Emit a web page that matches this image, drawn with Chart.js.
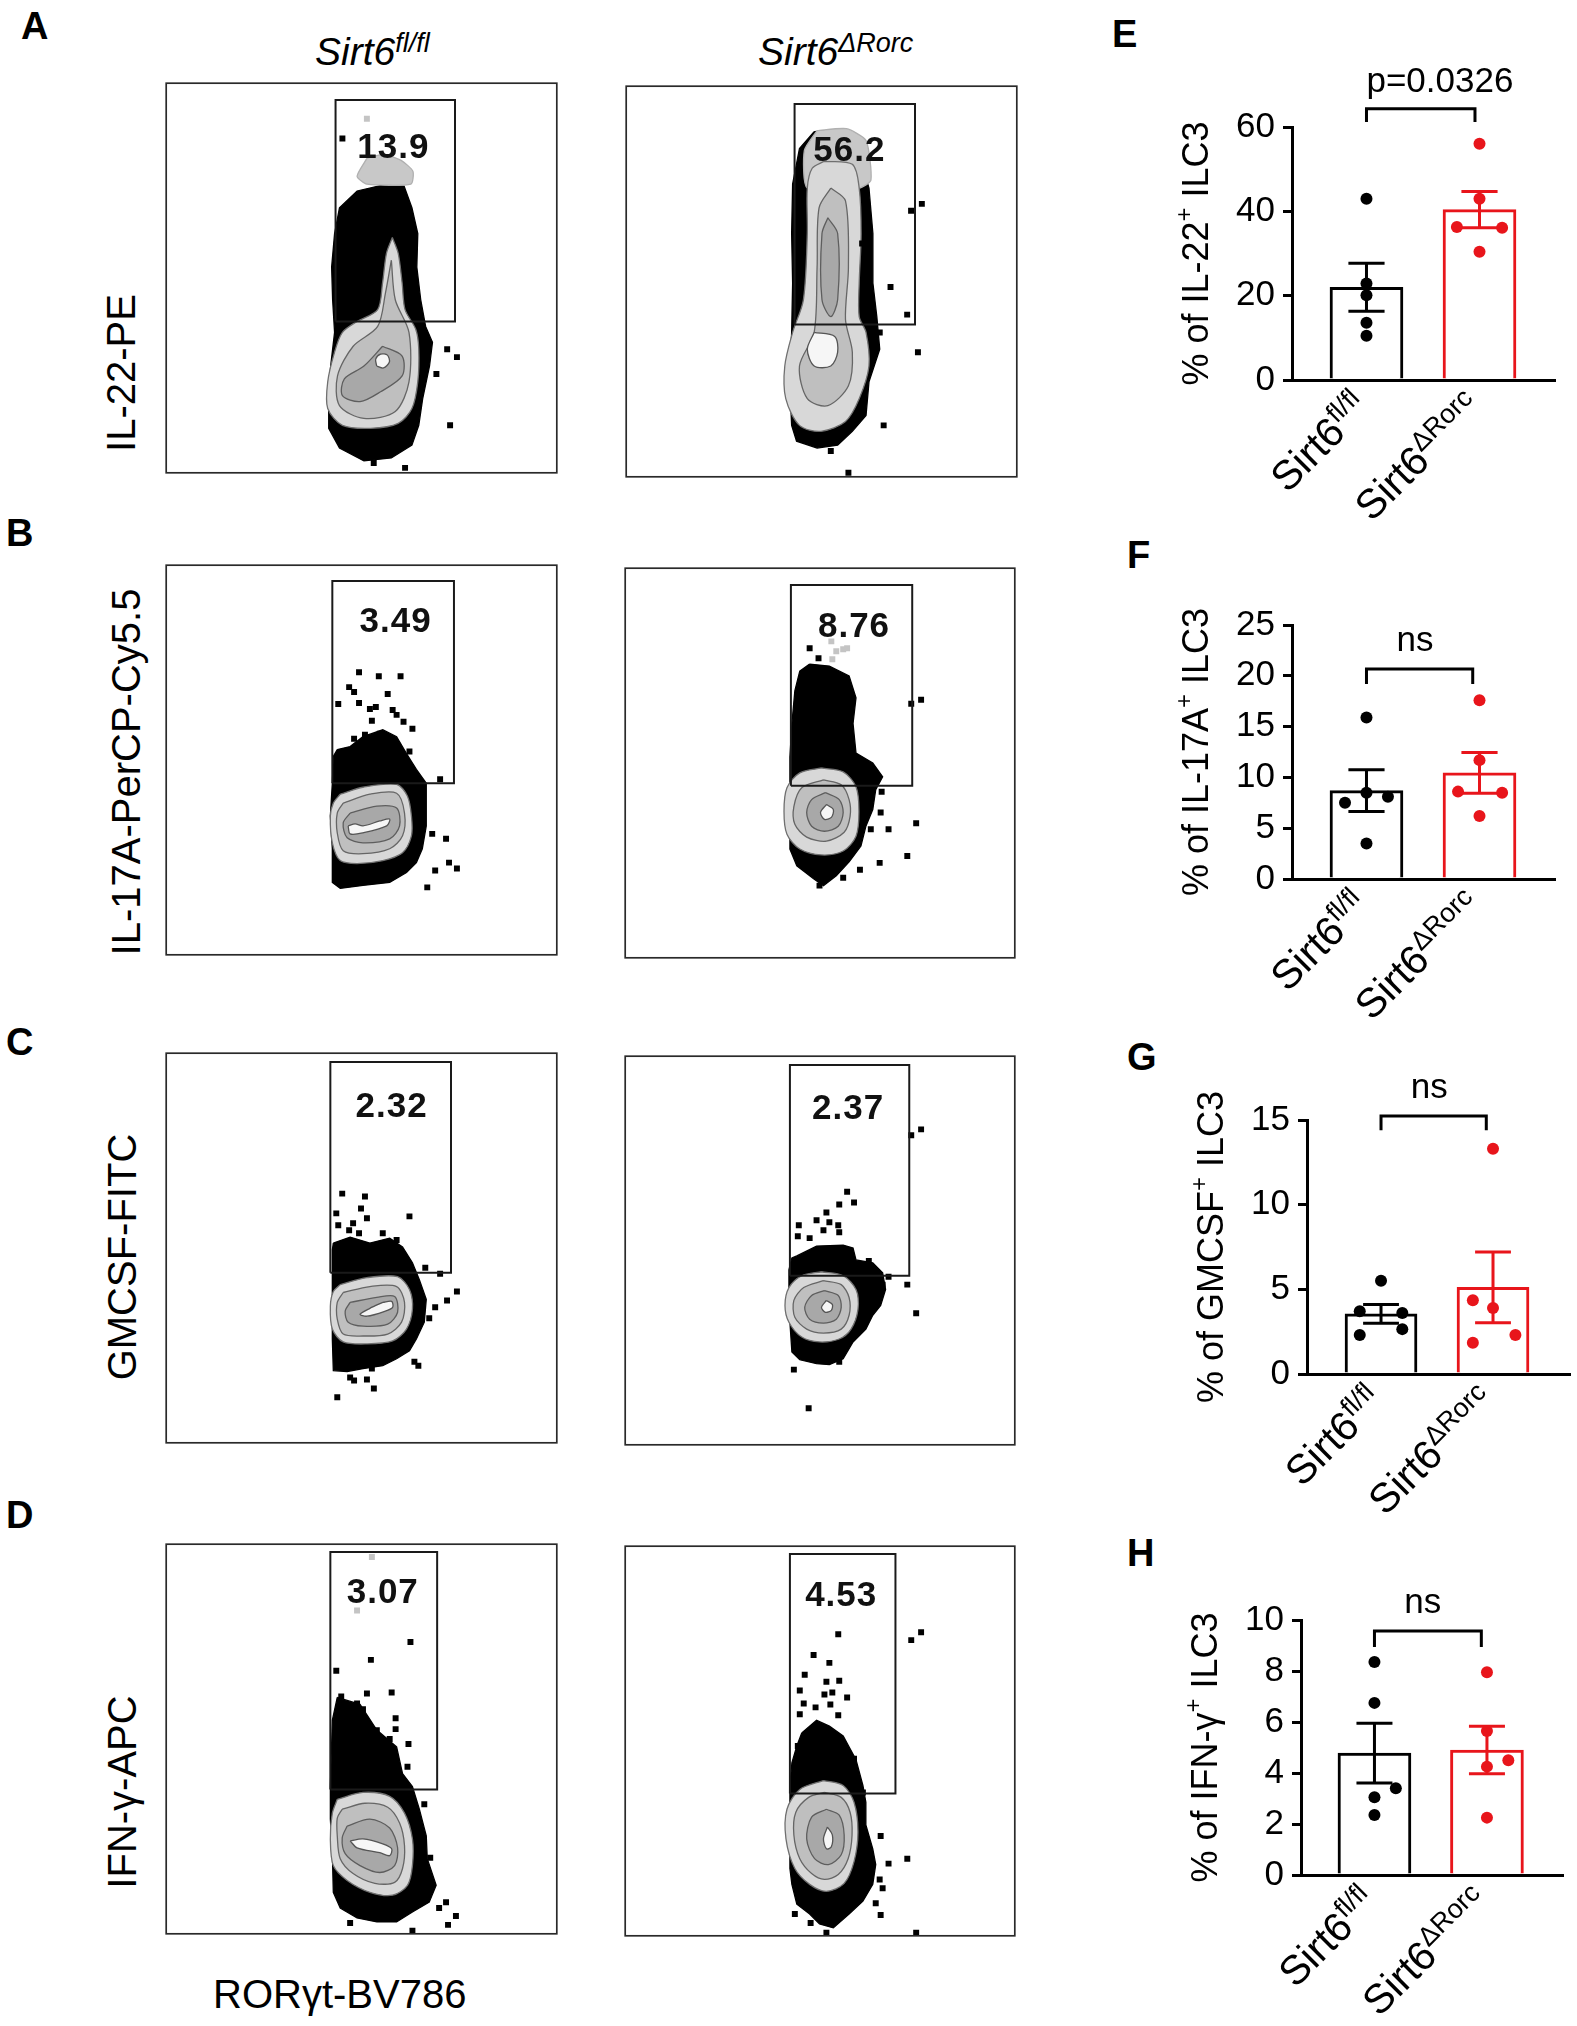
<!DOCTYPE html>
<html>
<head>
<meta charset="utf-8">
<script src="https://cdn.jsdelivr.net/npm/chart.js@4.4.1/dist/chart.umd.min.js"></script>
<style>
body{margin:0;background:#fff;}
#page{position:relative;width:1577px;height:2026px;overflow:hidden;font-family:'Liberation Sans',Arial,sans-serif;color:#000;}
canvas{position:absolute;}
.lt{position:absolute;font-weight:bold;font-size:38px;line-height:1;}
.hd{position:absolute;font-style:italic;font-size:39px;line-height:1;white-space:nowrap;}
.hd span{font-size:27px;position:relative;top:-13px;}
.yl{position:absolute;font-size:40px;line-height:1;white-space:nowrap;transform:translate(-50%,-50%) rotate(-90deg);}
.xl{position:absolute;font-size:40px;line-height:1;white-space:nowrap;}
</style>
</head>
<body>
<div id="page">
  <div class="lt" style="left:21px;top:7px">A</div>
  <div class="lt" style="left:6px;top:514px">B</div>
  <div class="lt" style="left:6px;top:1023px">C</div>
  <div class="lt" style="left:6px;top:1496px">D</div>
  <div class="lt" style="left:1112px;top:15px">E</div>
  <div class="lt" style="left:1127px;top:536px">F</div>
  <div class="lt" style="left:1127px;top:1038px">G</div>
  <div class="lt" style="left:1127px;top:1534px">H</div>

  <div class="hd" style="left:315px;top:32px">Sirt6<span>fl/fl</span></div>
  <div class="hd" style="left:758px;top:32px">Sirt6<span>ΔRorc</span></div>

  <div class="yl" style="left:121px;top:373px">IL-22-PE</div>
  <div class="yl" style="left:126px;top:772px">IL-17A-PerCP-Cy5.5</div>
  <div class="yl" style="left:122px;top:1257px">GMCSF-FITC</div>
  <div class="yl" style="left:122px;top:1792px">IFN-γ-APC</div>
  <div class="xl" style="left:213px;top:1974px">RORγt-BV786</div>

  <canvas id="aL"></canvas><canvas id="aR"></canvas>
  <canvas id="bL"></canvas><canvas id="bR"></canvas>
  <canvas id="cL"></canvas><canvas id="cR"></canvas>
  <canvas id="dL"></canvas><canvas id="dR"></canvas>
  <canvas id="chE"></canvas><canvas id="chF"></canvas>
  <canvas id="chG"></canvas><canvas id="chH"></canvas>
</div>
<script>
const FONT = "'Liberation Sans', Arial, sans-serif";

// ---------- bar charts (E-H) ----------
const groupBase = ['Sirt6', 'Sirt6'];
const groupSup = ['fl/fl', 'ΔRorc'];

// E: IL-22
const eMean = [22.0, 40.4];
const eSem = [5.7, 4.3];
const ePtsFl = [43.0, 22.9, 20.1, 13.6, 10.5];
const eOffFl = [0, 0, 0, 0, 0];
const ePtsKo = [56.0, 43.0, 36.3, 36.1, 30.4];
const eOffKo = [0, 0, -0.2, 0.2, 0];
const eTicks = [0, 60, 20];
const eTitle = ['% of IL-22', '+', ' ILC3'];

// F: IL-17A
const fMean = [8.7, 10.45];
const fSem = [2.05, 2.0];
const fPtsFl = [15.9, 8.5, 8.1, 7.5, 3.5];
const fOffFl = [0, 0, 0.19, -0.19, 0];
const fPtsKo = [17.6, 11.7, 8.6, 8.5, 6.2];
const fOffKo = [0, 0, -0.19, 0.2, 0];
const fTicks = [0, 25, 5];
const fTitle = ['% of IL-17A', '+', ' ILC3'];

// G: GMCSF
const gMean = [3.55, 5.12];
const gSem = [0.55, 2.09];
const gPtsFl = [5.5, 3.7, 3.6, 2.65, 2.3];
const gOffFl = [0, -0.19, 0.19, 0.19, -0.19];
const gPtsKo = [13.3, 4.35, 3.9, 2.3, 1.85];
const gOffKo = [0, -0.18, 0, 0.2, -0.18];
const gTicks = [0, 15, 5];
const gTitle = ['% of GMCSF', '+', ' ILC3'];

// H: IFN-g
const hMean = [4.78, 4.9];
const hSem = [1.17, 0.93];
const hPtsFl = [8.35, 6.75, 3.4, 3.05, 2.35];
const hOffFl = [0, 0, 0.19, 0, 0];
const hPtsKo = [7.95, 5.65, 4.5, 4.25, 2.25];
const hOffKo = [0, 0, 0.19, 0, 0];
const hTicks = [0, 10, 2];
const hTitle = ['% of IFN-γ', '+', ' ILC3'];

// significance: bracket [low, high, right x], text [label, x, y]
const eBracket = [61.2, 64.3, 0.96];
const eSig = ['p=0.0326', 0.65, 68.4];
const fBracket = [19.2, 20.67, 0.94];
const fSig = ['ns', 0.43, 22.4];
const gBracket = [14.4, 15.24, 0.94];
const gSig = ['ns', 0.43, 16.3];
const hBracket = [8.94, 9.57, 0.95];
const hSig = ['ns', 0.43, 10.26];

// ---------- flow plots (A-D), values in plot units ----------
const aLCloud = [[221,291],[243,290],[251,268],[257,242],[256,208],[260,175],[265,148],[272,132],[269,108],[262,75],[258,48],[251,28],[230,15],[202,12],[177,25],[166,45],[166,75],[168,108],[172,142],[170,175],[169,208],[172,242],[177,268],[195,285]];
const aLGray = [[205,318],[222,322],[240,316],[252,305],[250,292],[205,292],[195,300]];
const aLOuter = [[231,238],[237,222],[241,192],[244,165],[255,145],[258,125],[257,92],[251,65],[237,50],[209,45],[180,48],[165,65],[165,92],[172,122],[180,142],[195,153],[216,165],[221,192],[225,222]];
const aLRing2 = [[230,215],[234,175],[248,142],[248,92],[234,62],[202,55],[177,68],[175,98],[191,128],[216,148],[224,182]];
const aLRing3 = [[221,128],[241,118],[241,98],[219,82],[198,72],[180,78],[182,95],[202,108]];
const aLRing4 = [[215,108],[222,106],[228,112],[226,119],[219,120],[214,115]];
const aLDots = [[297,117],[287,125],[276,100],[290,48],[244,5],[212,10],[180,338]];
const aLGrayDots = [[205,358]];
const aLGate = [173,153,295,377];

const aRCloud = [[192,349],[220,351],[234,339],[248,292],[252,246],[252,196],[256,162],[259,129],[248,96],[245,62],[231,46],[216,32],[195,29],[174,36],[169,52],[167,96],[169,146],[170,196],[169,246],[170,296],[177,332]];
const aRGray = [[195,350],[225,352],[245,340],[250,300],[238,292],[185,292],[182,330]];
const aROuter = [[202,319],[231,316],[238,292],[240,246],[238,196],[238,162],[245,146],[248,112],[238,79],[224,56],[199,46],[177,52],[163,79],[162,112],[170,146],[181,179],[185,246],[185,292],[190,312]];
const aRRing2 = [[209,292],[224,279],[227,212],[224,159],[231,126],[227,92],[206,72],[185,79],[177,112],[192,146],[195,212],[197,272]];
const aRRing3 = [[206,262],[216,246],[216,179],[209,162],[200,179],[200,246]];
const aRRing4 = [[192,146],[213,142],[216,126],[209,112],[192,112],[185,129]];
const aRDots = [[302,276],[291,269],[298,126],[263,52],[270,192],[287,164],[227,4],[209,26],[259,146],[241,236]];
const aRGate = [172,154,295,377];

const bLCloud = [[173,207],[186,210],[199,220],[219,227],[233,220],[243,203],[253,187],[263,173],[263,153],[263,130],[259,107],[253,93],[243,83],[226,73],[199,70],[176,67],[168,73],[168,107],[166,140],[168,173],[169,200]];
const bLOuter = [[176,162],[199,169],[233,172],[244,160],[248,140],[248,120],[239,103],[219,95],[193,92],[176,95],[168,113],[166,140],[169,153]];
const bLRing2 = [[179,153],[206,162],[233,163],[241,143],[239,120],[226,107],[199,102],[179,105],[173,123],[173,143]];
const bLRing3 = [[186,143],[213,150],[233,148],[236,130],[226,117],[199,113],[183,118],[179,133]];
const bLRing4 = [[184,130],[191,132],[199,130],[216,135],[226,137],[223,130],[199,123],[186,122]];
const bLDots = [[195,285],[215,281],[237,281],[185,270],[190,265],[224,263],[174,253],[195,254],[206,248],[212,250],[229,247],[233,242],[208,236],[240,235],[249,228],[201,222],[216,223],[190,218],[246,205],[277,177],[283,117],[286,93],[294,87],[272,85],[264,68],[269,122]];
const bLGate = [168,173,291,377];

const bRCloud = [[187,297],[207,295],[227,285],[234,263],[231,237],[234,207],[251,197],[261,183],[254,170],[251,150],[244,133],[239,113],[227,97],[214,83],[201,73],[191,80],[174,93],[167,110],[167,137],[167,170],[167,203],[169,237],[172,270],[177,290]];
const bROuter = [[199,192],[221,188],[234,173],[237,148],[234,123],[221,108],[199,104],[177,110],[164,125],[161,148],[164,172],[177,187]];
const bRRing2 = [[201,180],[219,175],[227,160],[228,143],[222,127],[204,118],[184,122],[172,135],[171,153],[179,172]];
const bRRing3 = [[203,167],[217,160],[221,147],[216,133],[202,128],[189,133],[184,147],[189,160]];
const bRRing4 = [[204,155],[211,150],[209,142],[202,140],[198,147]];
const bRDots = [[187,313],[196,303],[300,261],[290,257],[259,147],[267,130],[295,136],[286,103],[258,96],[238,89],[221,81],[249,130],[260,168],[197,73]];
const bRGrayDots = [[209,320],[214,310],[221,312],[225,313],[210,302]];
const bRGate = [168,174,291,377];

const cLCloud = [[169,202],[186,208],[206,202],[226,207],[239,198],[249,182],[256,165],[263,145],[261,122],[253,105],[246,93],[233,85],[219,78],[199,75],[183,72],[169,73],[168,105],[168,138],[168,172],[168,195]];
const cLOuter = [[176,160],[203,167],[234,168],[246,155],[249,135],[243,115],[229,103],[203,100],[179,102],[168,115],[166,138],[169,153]];
const cLRing2 = [[179,152],[206,158],[233,158],[241,142],[238,122],[224,110],[199,108],[179,110],[173,125],[173,142]];
const cLRing3 = [[186,142],[213,147],[231,148],[234,132],[224,120],[199,118],[184,122],[181,133]];
const cLRing4 = [[219,142],[228,143],[229,137],[221,133],[203,128],[196,130],[206,136]];
const cLDots = [[178,252],[201,249],[197,237],[246,229],[172,232],[203,227],[174,220],[189,222],[185,215],[195,212],[219,212],[233,205],[262,177],[277,171],[294,153],[284,144],[272,137],[266,126],[255,78],[251,82],[208,75],[186,66],[190,63],[203,64],[210,55],[173,46]];
const cLGate = [166,172,288,385];

const cRCloud = [[174,191],[194,201],[221,202],[231,199],[234,187],[251,184],[261,174],[264,157],[259,141],[251,131],[244,117],[231,104],[221,87],[207,81],[194,82],[177,86],[169,94],[167,124],[166,154],[166,177],[169,189]];
const cROuter = [[199,175],[221,171],[234,157],[236,137],[229,117],[217,107],[197,104],[179,109],[166,124],[162,141],[166,159],[179,171]];
const cRRing2 = [[201,166],[219,162],[227,149],[227,131],[219,117],[201,113],[184,117],[172,129],[171,146],[181,159]];
const cRRing3 = [[202,156],[216,151],[219,139],[214,127],[201,123],[187,127],[182,139],[189,151]];
const cRRing4 = [[204,146],[210,142],[209,136],[203,134],[199,139]];
const cRDots = [[225,256],[232,245],[217,243],[204,235],[176,222],[194,227],[207,225],[216,222],[175,211],[187,209],[201,217],[217,215],[247,186],[267,170],[286,162],[295,133],[300,319],[290,313],[171,76],[186,37],[217,84],[254,141],[261,162]];
const cRGate = [167,171,288,384];

const dLCloud = [[173,239],[196,232],[213,206],[233,189],[239,162],[249,149],[256,126],[263,99],[264,76],[273,49],[266,32],[249,22],[233,12],[213,12],[193,16],[176,26],[169,42],[168,82],[166,116],[166,149],[167,182],[168,216]];
const dLOuter = [[173,136],[199,143],[226,139],[241,122],[249,96],[249,69],[244,49],[229,39],[206,42],[183,54],[169,69],[166,96],[168,122]];
const dLRing2 = [[178,126],[201,132],[224,128],[236,112],[241,89],[239,66],[231,52],[211,51],[189,61],[176,76],[173,99],[173,117]];
const dLRing3 = [[183,109],[206,116],[226,107],[234,87],[231,69],[216,62],[196,69],[181,81],[178,97]];
const dLRing4 = [[186,94],[199,96],[219,91],[228,86],[226,79],[216,82],[193,87]];
const dLDots = [[172,266],[207,277],[247,295],[203,243],[228,244],[177,240],[193,233],[199,227],[232,218],[232,207],[213,206],[226,197],[245,192],[244,169],[261,131],[267,77],[283,32],[276,26],[293,18],[285,9],[249,3],[186,11],[263,37]];
const dLGrayDots = [[208,381],[193,327]];
const dLGate = [166,146,274,386];

const dRCloud = [[179,205],[194,218],[207,212],[221,202],[234,178],[241,152],[244,135],[244,112],[251,88],[254,72],[251,52],[241,35],[227,22],[211,8],[197,12],[187,22],[174,32],[169,52],[167,68],[167,118],[167,152],[169,175],[174,192]];
const dROuter = [[201,157],[221,152],[232,135],[236,105],[232,75],[222,53],[204,45],[187,52],[172,68],[163,98],[164,128],[177,148]];
const dRRing2 = [[202,145],[219,140],[228,125],[230,102],[226,78],[216,62],[202,57],[189,63],[177,78],[171,102],[173,125],[186,140]];
const dRRing3 = [[204,128],[217,122],[222,102],[219,82],[206,72],[192,78],[184,98],[189,120]];
const dRRing4 = [[205,110],[210,102],[209,90],[204,88],[201,98]];
const dRDots = [[191,284],[207,276],[182,264],[204,257],[217,258],[177,248],[202,244],[210,246],[225,241],[181,235],[193,231],[208,234],[216,223],[177,224],[175,192],[232,179],[241,145],[259,101],[286,78],[267,73],[258,57],[261,48],[254,33],[259,21],[290,299],[300,307],[295,3],[172,22],[188,13],[204,3],[216,305]];
const dRGate = [167,144,274,386];

// gate percentages: [text, x, y]
const aLLabel = ['13.9', 232, 328];
const aRLabel = ['56.2', 228, 329];
const bLLabel = ['3.49', 232, 335];
const bRLabel = ['8.76', 232, 334];
const cLLabel = ['2.32', 228, 339];
const cRLabel = ['2.37', 226, 339];
const dLLabel = ['3.07', 219, 344];
const dRLabel = ['4.53', 219, 343];

// ---------- helpers ----------
const pts = a => a.map(p => ({x: p[0], y: p[1]}));
const closed = a => pts(a.concat([a[0]]));

function drawRich(ctx, parts, size, align) {
  const fontOf = p => (p.sup ? Math.round(size * 0.66) : size) + 'px ' + FONT;
  let total = 0;
  parts.forEach(p => { ctx.font = fontOf(p); total += ctx.measureText(p.t).width; });
  let cx = align === 'center' ? -total / 2 : (align === 'right' ? -total : 0);
  ctx.textAlign = 'left';
  parts.forEach(p => {
    ctx.font = fontOf(p);
    ctx.fillText(p.t, cx, p.sup ? -size * 0.36 : 0);
    cx += ctx.measureText(p.t).width;
  });
}

const frameBox = {
  id: 'frameBox',
  afterDatasetsDraw(chart) {
    const {ctx, chartArea: a} = chart;
    ctx.save();
    ctx.strokeStyle = '#2a2a2a';
    ctx.lineWidth = 1.7;
    ctx.strokeRect(a.left, a.top, a.right - a.left, a.bottom - a.top);
    ctx.restore();
  }
};

const gateLabel = {
  id: 'gateLabel',
  afterDatasetsDraw(chart, args, o) {
    const {ctx, scales} = chart;
    ctx.save();
    ctx.font = 'bold 35px ' + FONT;
    ctx.letterSpacing = '1px';
    ctx.fillStyle = '#111';
    ctx.textAlign = 'center';
    ctx.textBaseline = 'middle';
    ctx.fillText(o.text, scales.x.getPixelForValue(o.x), scales.y.getPixelForValue(o.y));
    ctx.restore();
  }
};

function polyDs(arr, fillColor, lineColor, order, tension) {
  return {
    type: 'line', data: closed(arr), fill: 'shape',
    backgroundColor: fillColor, borderColor: lineColor, borderWidth: 1.3,
    pointRadius: 0, tension: tension, order: order
  };
}

function makeFlow(id, box, w, h, p) {
  const el = document.getElementById(id);
  el.style.left = (box[0] - 2) + 'px';
  el.style.top = (box[1] - 2) + 'px';
  el.width = box[2] + 4;
  el.height = box[3] + 4;
  const g = p.gate;
  const ds = [
    {type: 'line', data: pts([[g[0],g[1]],[g[0],g[3]],[g[2],g[3]],[g[2],g[1]],[g[0],g[1]]]),
     borderColor: '#1a1a1a', borderWidth: 2, pointRadius: 0, fill: false, order: 0},
    {type: 'scatter', data: pts(p.dots), pointStyle: 'rect', pointRadius: 4.2,
     backgroundColor: '#000', borderWidth: 0, order: 1},
    polyDs(p.rings[2], '#f6f6f6', '#555', 2, 0.3),
    polyDs(p.rings[1], '#a8a8a8', '#5e5e5e', 3, 0.3),
    polyDs(p.rings[0], '#bfbfbf', '#666', 4, 0.3),
    polyDs(p.outer, '#d8d8d8', '#707070', 5, 0.3),
    polyDs(p.cloud, '#000', '#000', 7, 0)
  ];
  if (p.gray) ds.push(polyDs(p.gray, '#c8c8c8', '#b0b0b0', 6, 0.2));
  if (p.grayDots) ds.push({type: 'scatter', data: pts(p.grayDots), pointStyle: 'rect',
    pointRadius: 4.2, backgroundColor: '#c4c4c4', borderWidth: 0, order: 1});
  new Chart(el, {
    type: 'scatter',
    data: {datasets: ds},
    options: {
      responsive: false, animation: false, events: [], devicePixelRatio: 1,
      layout: {padding: 2},
      scales: {
        x: {type: 'linear', display: false, min: 0, max: w},
        y: {type: 'linear', display: false, min: 0, max: h}
      },
      plugins: {
        legend: {display: false}, tooltip: {enabled: false},
        gateLabel: {text: p.label[0], x: p.label[1], y: p.label[2]}
      }
    },
    plugins: [frameBox, gateLabel]
  });
}

makeFlow('aL', [164, 81, 395, 394], 399, 394, {cloud: aLCloud, gray: aLGray, outer: aLOuter, rings: [aLRing2, aLRing3, aLRing4], dots: aLDots, grayDots: aLGrayDots, gate: aLGate, label: aLLabel});
makeFlow('aR', [624, 84, 395, 395], 399, 395, {cloud: aRCloud, gray: aRGray, outer: aROuter, rings: [aRRing2, aRRing3, aRRing4], dots: aRDots, gate: aRGate, label: aRLabel});
makeFlow('bL', [164, 563, 395, 394], 395, 393, {cloud: bLCloud, outer: bLOuter, rings: [bLRing2, bLRing3, bLRing4], dots: bLDots, gate: bLGate, label: bLLabel});
makeFlow('bR', [623, 566, 394, 394], 395, 394, {cloud: bRCloud, outer: bROuter, rings: [bRRing2, bRRing3, bRRing4], dots: bRDots, grayDots: bRGrayDots, gate: bRGate, label: bRLabel});
makeFlow('cL', [164, 1051, 395, 394], 395, 394, {cloud: cLCloud, outer: cLOuter, rings: [cLRing2, cLRing3, cLRing4], dots: cLDots, gate: cLGate, label: cLLabel});
makeFlow('cR', [623, 1054, 394, 393], 395, 393, {cloud: cRCloud, outer: cROuter, rings: [cRRing2, cRRing3, cRRing4], dots: cRDots, gate: cRGate, label: cRLabel});
makeFlow('dL', [164, 1542, 395, 394], 395, 394, {cloud: dLCloud, outer: dLOuter, rings: [dLRing2, dLRing3, dLRing4], dots: dLDots, grayDots: dLGrayDots, gate: dLGate, label: dLLabel});
makeFlow('dR', [623, 1544, 394, 394], 395, 394, {cloud: dRCloud, outer: dROuter, rings: [dRRing2, dRRing3, dRRing4], dots: dRDots, gate: dRGate, label: dRLabel});

// ---------- bar chart builder ----------
const BLACK = '#000000';
const RED = '#e8151b';

const barDeco = {
  id: 'barDeco',
  afterDraw(chart, args, o) {
    const {ctx, chartArea: a, scales: {x, y}} = chart;
    ctx.save();
    ctx.fillStyle = '#000';
    ctx.translate(a.left - 94, (a.top + a.bottom) / 2);
    ctx.rotate(-Math.PI / 2);
    ctx.textBaseline = 'middle';
    drawRich(ctx, [{t: o.title[0]}, {t: o.title[1], sup: true}, {t: o.title[2]}], 36, 'center');
    ctx.restore();
    groupBase.forEach((b, i) => {
      ctx.save();
      ctx.fillStyle = '#000';
      ctx.translate(x.getPixelForValue(i) + 5, a.bottom + 30);
      ctx.rotate(-Math.PI / 4);
      ctx.textBaseline = 'alphabetic';
      drawRich(ctx, [{t: b}, {t: groupSup[i], sup: true}], 41, 'right');
      ctx.restore();
    });
    ctx.save();
    ctx.fillStyle = '#000';
    ctx.font = '35px ' + FONT;
    ctx.textAlign = 'center';
    ctx.textBaseline = 'alphabetic';
    ctx.fillText(o.sig[0], x.getPixelForValue(o.sig[1]), y.getPixelForValue(o.sig[2]));
    ctx.restore();
  }
};

function makeBar(id, box, pad, xr, barW, d) {
  const el = document.getElementById(id);
  el.style.left = box[0] + 'px';
  el.style.top = box[1] + 'px';
  el.width = box[2];
  el.height = box[3];
  const cap = 0.16;
  const err = (i) => {
    const hi = d.mean[i] + d.sem[i], lo = d.mean[i] - d.sem[i];
    return [{x: i - cap, y: hi}, {x: i + cap, y: hi}, {x: i, y: null},
            {x: i, y: hi}, {x: i, y: lo}, {x: i, y: null},
            {x: i - cap, y: lo}, {x: i + cap, y: lo}];
  };
  const br = d.bracket;
  new Chart(el, {
    type: 'bar',
    data: {
      datasets: [
        {type: 'scatter', data: d.ptsFl.map((v, k) => ({x: 0 + d.offFl[k], y: v})),
         pointRadius: 6, backgroundColor: BLACK, borderWidth: 0, order: 0},
        {type: 'scatter', data: d.ptsKo.map((v, k) => ({x: 1 + d.offKo[k], y: v})),
         pointRadius: 6, backgroundColor: RED, borderWidth: 0, order: 0},
        {type: 'line', data: err(0), borderColor: BLACK, borderWidth: 3, pointRadius: 0,
         fill: false, spanGaps: false, order: 1},
        {type: 'line', data: err(1), borderColor: RED, borderWidth: 3, pointRadius: 0,
         fill: false, spanGaps: false, order: 1},
        {type: 'bar', data: [{x: 0, y: d.mean[0]}, {x: 1, y: d.mean[1]}],
         backgroundColor: '#ffffff', borderColor: [BLACK, RED], borderWidth: 3,
         barThickness: barW, borderSkipped: 'start', order: 2},
        {type: 'line', data: [{x: 0, y: br[0]}, {x: 0, y: br[1]}, {x: br[2], y: br[1]}, {x: br[2], y: br[0]}],
         borderColor: BLACK, borderWidth: 3, pointRadius: 0, fill: false, clip: false, order: 3}
      ]
    },
    options: {
      responsive: false, animation: false, events: [], devicePixelRatio: 1,
      layout: {padding: {left: pad[0], right: pad[1], top: pad[2], bottom: pad[3]}},
      scales: {
        x: {type: 'linear', min: xr[0], max: xr[1], offset: false,
            ticks: {display: false}, grid: {display: false},
            border: {display: true, color: '#000', width: 3},
            afterFit(s) { s.height = 0; }},
        y: {type: 'linear', min: d.ticks[0], max: d.ticks[1],
            ticks: {stepSize: d.ticks[2], color: '#000', padding: 8, font: {size: 35, family: FONT}},
            grid: {display: true, drawOnChartArea: false, drawTicks: true, tickLength: 9,
                   color: '#000', lineWidth: 3},
            border: {display: true, color: '#000', width: 3},
            afterFit(s) { s.width = 60; }}
      },
      plugins: {
        legend: {display: false}, tooltip: {enabled: false},
        barDeco: {title: d.title, sig: d.sig}
      }
    },
    plugins: [barDeco]
  });
}

makeBar('chE', [1150, 40, 427, 480], [82, 22, 87, 140], [-0.659, 1.668], 73,
  {mean: eMean, sem: eSem, ptsFl: ePtsFl, offFl: eOffFl, ptsKo: ePtsKo, offKo: eOffKo,
   ticks: eTicks, title: eTitle, bracket: eBracket, sig: eSig});
makeBar('chF', [1150, 530, 427, 490], [82, 22, 95, 141], [-0.659, 1.668], 73,
  {mean: fMean, sem: fSem, ptsFl: fPtsFl, offFl: fOffFl, ptsKo: fPtsKo, offKo: fOffKo,
   ticks: fTicks, title: fTitle, bracket: fBracket, sig: fSig});
makeBar('chG', [1150, 1040, 427, 480], [97, 7, 80, 146], [-0.661, 1.6875], 72,
  {mean: gMean, sem: gSem, ptsFl: gPtsFl, offFl: gOffFl, ptsKo: gPtsKo, offKo: gOffKo,
   ticks: gTicks, title: gTitle, bracket: gBracket, sig: gSig});
makeBar('chH', [1150, 1530, 427, 496], [91, 14, 90, 151], [-0.653, 1.676], 73,
  {mean: hMean, sem: hSem, ptsFl: hPtsFl, offFl: hOffFl, ptsKo: hPtsKo, offKo: hOffKo,
   ticks: hTicks, title: hTitle, bracket: hBracket, sig: hSig});
</script>
</body>
</html>
